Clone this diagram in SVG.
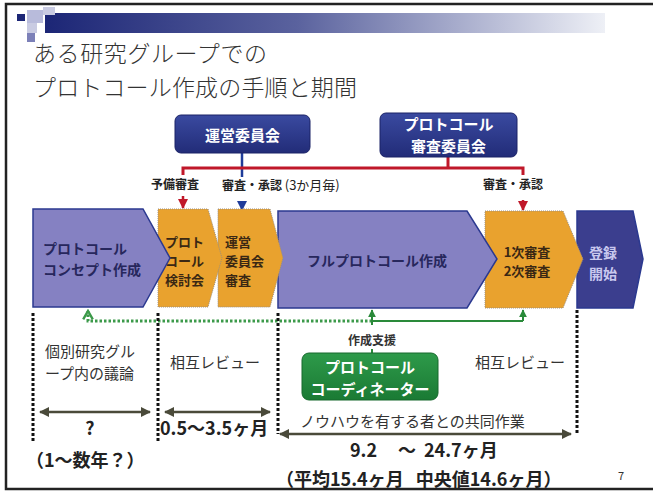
<svg xmlns="http://www.w3.org/2000/svg" width="653" height="492" viewBox="0 0 653 492">
<defs>
<linearGradient id="bar" x1="0" y1="0" x2="1" y2="0">
<stop offset="0" stop-color="#1c2676"/>
<stop offset="0.45" stop-color="#5a629e"/>
<stop offset="1" stop-color="#eef0f6"/>
</linearGradient>
<linearGradient id="navy" x1="0" y1="0" x2="0" y2="1">
<stop offset="0" stop-color="#3a4aa0"/>
<stop offset="1" stop-color="#222c78"/>
</linearGradient>
<linearGradient id="green" x1="0" y1="0" x2="0" y2="1">
<stop offset="0" stop-color="#2e9a4a"/>
<stop offset="1" stop-color="#1a7a34"/>
</linearGradient>
<marker id="aRed" viewBox="0 0 10 10" refX="9" refY="5" markerWidth="4" markerHeight="4" orient="auto"><path d="M0,0 L10,5 L0,10 Z" fill="#c0182a"/></marker>
<marker id="aBlue" viewBox="0 0 10 10" refX="9" refY="5" markerWidth="4" markerHeight="4" orient="auto"><path d="M0,0 L10,5 L0,10 Z" fill="#1f3c9a"/></marker>
<marker id="aGreen" viewBox="0 0 10 10" refX="9" refY="5" markerWidth="4" markerHeight="4" orient="auto"><path d="M0,0 L10,5 L0,10 Z" fill="#2a8a3a"/></marker>
<marker id="aGreenOpen" viewBox="0 0 10 10" refX="8" refY="5" markerWidth="4" markerHeight="4" orient="auto"><path d="M1,1 L8,5 L1,9" fill="none" stroke="#3c9a4a" stroke-width="2"/></marker>
<marker id="aOlive" viewBox="0 0 10 10" refX="9" refY="5" markerWidth="4" markerHeight="4" orient="auto-start-reverse"><path d="M0,0 L10,5 L0,10 Z" fill="#4a4a3a"/></marker>
</defs>
<style>
text{font-family:"Noto Sans CJK JP","Noto Sans",sans-serif;}
.title{font-size:23px;fill:#333;font-weight:300;}
.chevP{fill:#8581c2;stroke:#2b3990;stroke-width:1.5;}
.chevO{fill:#e9a22e;stroke:#9a8e80;stroke-width:1;stroke-dasharray:1 1;}
.chevN{fill:#3b3e8e;stroke:#2b3990;stroke-width:1.5;}
.tP{font-size:14px;font-weight:bold;fill:#27275c;}
.tO{font-size:13px;font-weight:bold;fill:#3a2814;}
.tW{font-size:15px;font-weight:bold;fill:#ffffff;}
.lab{font-size:12px;font-weight:bold;fill:#222;}
.note{font-size:15px;fill:#333;}
.big{font-size:18px;font-weight:bold;fill:#222;}
.dot{stroke:#111;stroke-width:3;stroke-dasharray:3 2;fill:none;}
.red{stroke:#c0182a;stroke-width:3;fill:none;}
.olive{stroke:#4a4a3a;stroke-width:2.5;fill:none;}
</style>
<rect x="0" y="0" width="653" height="492" fill="#ffffff"/>
<!-- frame -->
<path d="M653,4 L6,4 L6,489 L653,489" fill="none" stroke="#222" stroke-width="2.5"/>
<!-- title decoration -->
<rect x="45" y="13" width="560" height="20" fill="url(#bar)"/>
<rect x="43" y="7" width="12" height="8" fill="#c9cbe2"/>
<rect x="27" y="10" width="16" height="13" fill="#b8bbdb"/>
<rect x="17" y="14" width="8" height="7" fill="#1c2676"/>
<rect x="27" y="23" width="10" height="10" fill="#c9cbe2"/>
<rect x="27" y="33" width="8" height="9" fill="#7c80b8"/>
<text class="title" x="33" y="62" textLength="234">ある研究グループでの</text>
<text class="title" x="33" y="96" textLength="324">プロトコール作成の手順と期間</text>

<!-- connectors -->
<g id="connectors">
<line x1="242" y1="153" x2="242" y2="177" stroke="#1f3c9a" stroke-width="2.5"/>
<path class="red" d="M183,175 L183,168 L523,168 L523,175"/>
<line class="red" x1="448" y1="157" x2="448" y2="168"/>
<line x1="183" y1="196" x2="183" y2="208" stroke="#c0182a" stroke-width="2.5" marker-end="url(#aRed)"/>
<line x1="242" y1="202" x2="242" y2="210" stroke="#1f3c9a" stroke-width="2.5" marker-end="url(#aBlue)"/>
<line x1="523" y1="200" x2="523" y2="210" stroke="#c0182a" stroke-width="2.5" marker-end="url(#aRed)"/>
<!-- green -->
<path d="M372,321 L88,321 L88,311" fill="none" stroke="#3c9a4a" stroke-width="3" stroke-dasharray="2.5 2" marker-end="url(#aGreenOpen)"/>
<line x1="372" y1="321" x2="523" y2="321" stroke="#2a8a3a" stroke-width="2"/>
<line x1="372" y1="325" x2="372" y2="310" stroke="#2a8a3a" stroke-width="2" marker-end="url(#aGreen)"/>
<line x1="523" y1="321" x2="523" y2="310" stroke="#2a8a3a" stroke-width="2" marker-end="url(#aGreen)"/>
<line x1="372" y1="349" x2="372" y2="354" stroke="#2a8a3a" stroke-width="2"/>
<!-- dotted separators -->
<line class="dot" x1="33" y1="313" x2="33" y2="442"/>
<line class="dot" x1="158" y1="313" x2="158" y2="442"/>
<line class="dot" x1="278" y1="313" x2="278" y2="434"/>
<line class="dot" x1="577" y1="310" x2="577" y2="434"/>
<!-- duration arrows -->
<line class="olive" x1="40" y1="412" x2="150" y2="412" marker-start="url(#aOlive)" marker-end="url(#aOlive)"/>
<line class="olive" x1="165" y1="412" x2="270" y2="412" marker-start="url(#aOlive)" marker-end="url(#aOlive)"/>
<line class="olive" x1="280" y1="434" x2="571" y2="434" marker-start="url(#aOlive)" marker-end="url(#aOlive)"/>
</g>

<!-- committees -->
<g id="unei">
<rect x="175" y="115" width="135" height="38" rx="6" fill="url(#navy)" stroke="#1a2266" stroke-width="1"/>
<text class="tW" x="242.5" y="141" text-anchor="middle" font-size="18">運営委員会</text>
</g>
<g id="shinsa">
<rect x="380" y="113" width="137" height="44" rx="6" fill="url(#navy)" stroke="#1a2266" stroke-width="1"/>
<text class="tW" x="448.5" y="130" text-anchor="middle">プロトコール</text>
<text class="tW" x="448.5" y="152" text-anchor="middle">審査委員会</text>
</g>

<!-- labels -->
<text class="lab" x="175" y="189" text-anchor="middle">予備審査</text>
<text class="lab" x="222" y="190">審査・承認 <tspan font-weight="normal" font-size="13">(3か月毎)</tspan></text>
<text class="lab" x="513" y="189" text-anchor="middle">審査・承認</text>

<!-- process chevrons, drawn right to left -->
<g id="touroku">
<path class="chevN" d="M577,211 L633,211 L643,259 L633,308 L577,308 Z"/>
<text x="603" y="258" text-anchor="middle" font-size="14" font-weight="bold" fill="#c9c8ee">登録</text>
<text x="603" y="279" text-anchor="middle" font-size="14" font-weight="bold" fill="#c9c8ee">開始</text>
</g>
<g id="shinsa12">
<path class="chevO" d="M485,211 L563,211 L583,259 L563,308 L485,308 Z"/>
<text class="tO" x="527" y="257" text-anchor="middle">1次審査</text>
<text class="tO" x="527" y="276" text-anchor="middle">2次審査</text>
</g>
<g id="full">
<path class="chevP" d="M278,211 L467,211 L497,259 L467,308 L278,308 Z"/>
<text class="tP" x="377" y="266" text-anchor="middle" font-size="15">フルプロトコール作成</text>
</g>
<g id="uneishinsa">
<path class="chevO" d="M218,209 L270,209 L283,258 L270,307 L218,307 Z"/>
<text class="tO" x="225" y="247">運営</text>
<text class="tO" x="225" y="266">委員会</text>
<text class="tO" x="225" y="285">審査</text>
</g>
<g id="kentou">
<path class="chevO" d="M158,209 L208,209 L222,258 L208,307 L158,307 Z"/>
<text class="tO" x="165" y="247">プロト</text>
<text class="tO" x="165" y="266">コール</text>
<text class="tO" x="165" y="285">検討会</text>
</g>
<g id="concept">
<path class="chevP" d="M33,209 L143,209 L170,258 L143,307 L33,307 Z"/>
<text class="tP" x="43" y="254">プロトコール</text>
<text class="tP" x="43" y="275">コンセプト作成</text>
</g>

<!-- coordinator -->
<text x="372" y="345" text-anchor="middle" font-size="12" font-weight="bold" fill="#333">作成支援</text>
<g id="coordinator">
<rect x="302" y="353" width="136" height="47" rx="7" fill="url(#green)" stroke="#16692c" stroke-width="1"/>
<text class="tW" x="370" y="373" text-anchor="middle">プロトコール</text>
<text class="tW" x="370" y="395" text-anchor="middle">コーディネーター</text>
</g>

<!-- notes -->
<text class="note" x="45" y="357">個別研究グル</text>
<text class="note" x="45" y="379">ープ内の議論</text>
<text class="note" x="170" y="368" font-size="16">相互レビュー</text>
<text class="note" x="475" y="368" font-size="16">相互レビュー</text>
<text class="note" x="300" y="427" font-size="16">ノウハウを有する者との共同作業</text>

<!-- durations -->
<text class="big" x="90" y="435" text-anchor="middle" font-size="19">?</text>
<text class="big" x="26" y="467">（1～数年？）</text>
<text class="big" x="160" y="435" font-size="19">0.5～3.5ヶ月</text>
<text class="big" x="350" y="457" font-size="20">9.2<tspan x="398">～</tspan><tspan x="424">24.7ヶ月</tspan></text>
<text class="big" x="276" y="486">（平均15.4ヶ月<tspan dx="12">中央値14.6ヶ月）</tspan></text>
<text x="618" y="480" font-size="11" fill="#333" font-family="Liberation Sans, sans-serif">7</text>
</svg>
